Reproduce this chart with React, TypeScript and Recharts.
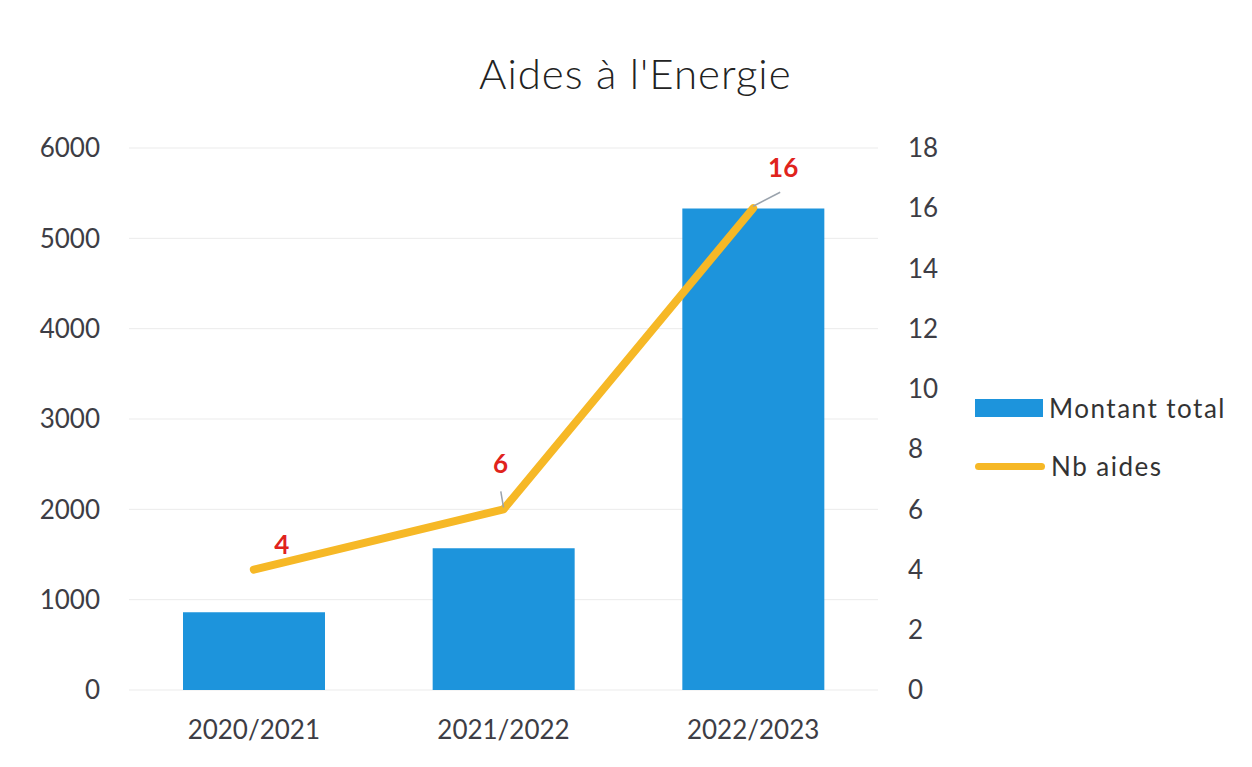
import React from 'react';
import { ComposedChart, Bar, Line, XAxis, YAxis, CartesianGrid, Legend, LabelList } from 'recharts';

const years = ['2020/2021', '2021/2022', '2022/2023'];
const montantTotal = [860, 1570, 5330];
const nbAides = [4, 6, 16];
const leftTicks = [0, 1000, 2000, 3000, 4000, 5000, 6000];
const rightTicks = [0, 2, 4, 6, 8, 10, 12, 14, 16, 18];

const data = years.map((y, i) => ({ year: y, montant: montantTotal[i], nb: nbAides[i] }));

const BLUE = '#1D94DC';
const GOLD = '#F6B826';
const FONT = 'Lato, "Open Sans", sans-serif';

// where each red value label sits relative to its point
const labelPos = [
  { dx: 28, dy: -25, leader: false },
  { dx: -3, dy: -45, leader: true },
  { dx: 30, dy: -40, leader: true },
];

const ValueLabel = (props: any) => {
  const { x, y, value, index } = props;
  const p = labelPos[index];
  const cx = x + p.dx;
  const cy = y + p.dy;
  return (
    <g>
      {p.leader && (
        <line x1={x + p.dx * 0.9} y1={y + p.dy * 0.4} x2={x} y2={y - 2} stroke="#9aa3ad" strokeWidth={1.5} />
      )}
      <text x={cx} y={cy + 9} textAnchor="middle" fill="#E0231C" fontWeight="bold" fontSize={26} fontFamily={FONT}>
        {value}
      </text>
    </g>
  );
};

const LegendBox = () => (
  <div style={{ fontFamily: FONT, fontSize: 26, color: '#333' }}>
    <div style={{ display: 'flex', alignItems: 'center', height: 30, marginBottom: 28 }}>
      <span style={{ display: 'inline-block', width: 68, height: 18, background: BLUE, marginRight: 6 }} />
      <span style={{ letterSpacing: 1.5 }}>Montant total</span>
    </div>
    <div style={{ display: 'flex', alignItems: 'center', height: 30 }}>
      <span style={{ display: 'inline-block', width: 70, height: 7, borderRadius: 4, background: GOLD, marginRight: 6 }} />
      <span style={{ letterSpacing: 1.5 }}>Nb aides</span>
    </div>
  </div>
);

export default function App() {
  return (
    <div style={{ position: 'relative', width: 1252, height: 767, margin: -8, background: '#fff' }}>
      <div style={{ position: 'absolute', left: 479, top: 48, fontFamily: FONT, fontSize: 42, fontWeight: 300, lineHeight: '50px', color: '#222', letterSpacing: 1 }}>
        Aides à l'Energie
      </div>
      <ComposedChart width={1252} height={767} data={data} margin={{ top: 148, right: 0, bottom: 27, left: 0 }}>
        <CartesianGrid vertical={false} stroke="#ebebeb" yAxisId="left" />
        <XAxis
          dataKey="year"
          axisLine={false}
          tickLine={false}
          tickSize={0}
          tickMargin={31}
          height={50}
          tick={{ fill: '#3d3d45', fontSize: 26, fontFamily: FONT }}
        />
        <YAxis
          yAxisId="left"
          domain={[0, 6000]}
          ticks={leftTicks}
          width={129}
          axisLine={false}
          tickLine={false}
          tickSize={0}
          tickMargin={29}
          tick={{ fill: '#3d3d45', fontSize: 26, fontFamily: FONT }}
        />
        <YAxis
          yAxisId="right"
          orientation="right"
          domain={[0, 18]}
          ticks={rightTicks}
          width={374}
          axisLine={false}
          tickLine={false}
          tickSize={0}
          tickMargin={30}
          tick={{ fill: '#3d3d45', fontSize: 26, fontFamily: FONT, textAnchor: 'start' }}
        />
        <Bar yAxisId="left" dataKey="montant" name="Montant total" fill={BLUE} barSize={142} isAnimationActive={false} />
        <Line
          yAxisId="right"
          dataKey="nb"
          name="Nb aides"
          type="linear"
          stroke={GOLD}
          strokeWidth={8}
          strokeLinecap="round"
          strokeLinejoin="round"
          dot={false}
          activeDot={false}
          isAnimationActive={false}
        >
          <LabelList dataKey="nb" content={<ValueLabel />} />
        </Line>
        <Legend
          layout="vertical"
          align="center"
          verticalAlign="middle"
          wrapperStyle={{ left: 975, top: 393, width: 275 }}
          content={<LegendBox />}
        />
      </ComposedChart>
    </div>
  );
}
